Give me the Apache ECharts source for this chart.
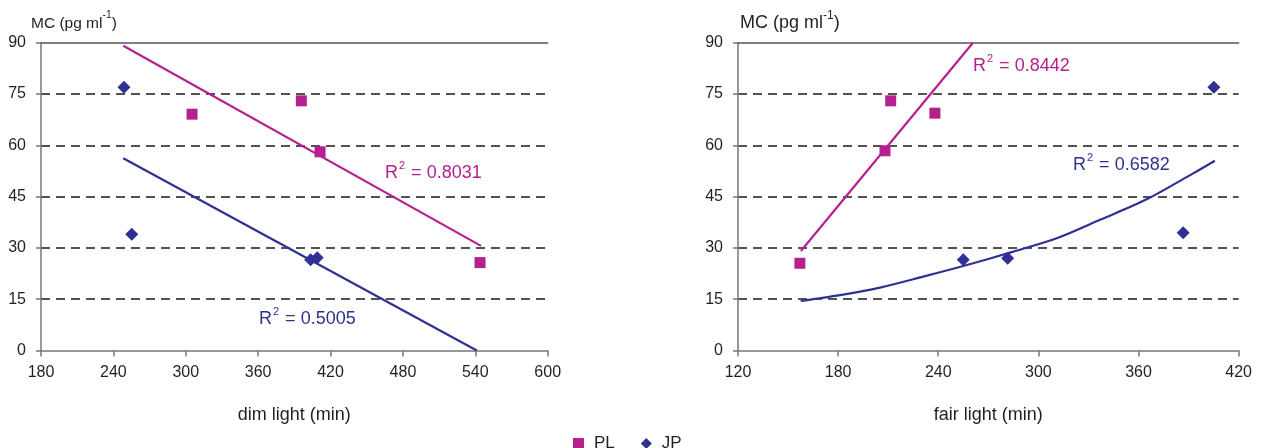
<!DOCTYPE html>
<html>
<head>
<meta charset="utf-8">
<script src="https://cdn.jsdelivr.net/npm/echarts@6/dist/echarts.min.js"></script>
<style>
html,body{margin:0;padding:0;background:#fff;}
#c{width:1265px;height:448px;}
</style>
</head>
<body>
<div id="c"></div>
<script>
// ---- data ----
const seriesNames = ['PL', 'JP'];
const dimPL = [[305.2, 69.1], [395.8, 73.0], [411.3, 58.1], [543.9, 25.7]];
const dimJP = [[248.8, 77.0], [255.2, 34.0], [403.5, 26.5], [409.0, 27.1]];
const fairPL = [[157.1, 25.5], [208.1, 58.4], [211.5, 73.0], [238.0, 69.4]];
const fairJP = [[255.0, 26.5], [281.6, 27.0], [386.8, 34.4], [405.2, 77.0]];
const dimPLTrend = [[248.2, 89.1], [544.7, 30.6]];
const dimJPTrend = [[248.2, 56.2], [541.2, 0]];
const fairPLTrend = [[157.7, 29.1], [260.8, 90]];
const fairJPTrend = [[157.6, 14.5], [181.1, 16.2], [205.1, 18.4], [231.0, 21.6], [255.0, 24.7], [285.0, 28.9], [311.0, 32.8], [336.9, 38.2], [364.9, 44.2], [392.8, 51.8], [405.8, 55.5]];
const r2Labels = ['0.8031', '0.5005', '0.8442', '0.6582'];
const yTitle = 'MC (pg ml';
const xTitles = ['dim light (min)', 'fair light (min)'];
const xRanges = [[180, 600, 60], [120, 420, 60]];
const yRange = [0, 90, 15];

const PL_COLOR = '#B5208E';
const JP_COLOR = '#2E3192';
const TXT = '#231F20';
const FONT = 'Liberation Sans, Arial, sans-serif';
const NONE = 'rgba(0,0,0,0)';
const DASH = '#1a1a1a';

const chart = echarts.init(document.getElementById('c'), null, {renderer: 'canvas'});

const grids = [
  {left: 41, top: 42.7, width: 506.7, height: 307.8},
  {left: 738, top: 42.7, width: 500.6, height: 307.8}
];

function xAxisFor(i) {
  return {
    type: 'value', gridIndex: i, position: 'bottom',
    min: xRanges[i][0], max: xRanges[i][1], interval: xRanges[i][2],
    name: xTitles[i], nameLocation: 'middle', nameGap: 56,
    nameTextStyle: {fontFamily: FONT, fontSize: 18, color: TXT},
    axisLine: {show: true, lineStyle: {color: '#777', width: 1.5}},
    axisTick: {show: true, length: 6, lineStyle: {color: '#777', width: 1.5}},
    axisLabel: {fontFamily: FONT, fontSize: 16, color: TXT, margin: 14},
    splitLine: {show: false}
  };
}
function topAxisFor(i) {
  return {
    type: 'value', gridIndex: i, position: 'top',
    min: xRanges[i][0], max: xRanges[i][1], interval: xRanges[i][2],
    axisLine: {show: true, lineStyle: {color: '#555', width: 1.5}},
    axisTick: {show: false}, axisLabel: {show: false}, splitLine: {show: false}
  };
}
function yAxisFor(i) {
  return {
    type: 'value', gridIndex: i,
    min: yRange[0], max: yRange[1], interval: yRange[2],
    axisLine: {show: true, lineStyle: {color: '#777', width: 1.5}},
    axisTick: {show: true, length: 5, lineStyle: {color: '#777', width: 1.5}},
    axisLabel: {fontFamily: FONT, fontSize: 16, color: TXT, margin: 15},
    splitLine: {show: true, lineStyle: {color: [NONE, DASH, DASH, DASH, DASH, DASH, NONE], width: 1.5, type: [9, 6]}}
  };
}

function scatter(name, data, gi, color, symbol, size) {
  return {
    name: name, type: 'scatter', xAxisIndex: gi * 2, yAxisIndex: gi,
    data: data, symbol: symbol, symbolSize: size,
    itemStyle: {color: color, opacity: 1}, z: 5
  };
}
function trend(name, data, gi, color, smooth) {
  return {
    name: name, type: 'line', xAxisIndex: gi * 2, yAxisIndex: gi,
    data: data, showSymbol: false, symbol: 'none', smooth: smooth || false,
    lineStyle: {color: color, width: 2.2}, clip: true, z: 4,
    emphasis: {disabled: true}
  };
}

function r2Text(x, y, val, color) {
  return {
    type: 'text', x: x, y: y, z: 10,
    style: {
      text: '{n|R}{s|2}{n| = ' + val + '}',
      fill: color, verticalAlign: 'middle', align: 'left',
      rich: {
        n: {fontFamily: FONT, fontSize: 18, color: color, lineHeight: 22, verticalAlign: 'bottom'},
        s: {fontFamily: FONT, fontSize: 11, color: color, lineHeight: 22, verticalAlign: 'top', padding: [0, 1, 0, 1]}
      }
    }
  };
}
function yTitleText(x, y, fs, sfs) {
  return {
    type: 'text', x: x, y: y, z: 10,
    style: {
      text: '{n|' + yTitle + '}{s|-1}{n|)}',
      fill: TXT, verticalAlign: 'middle', align: 'left',
      rich: {
        n: {fontFamily: FONT, fontSize: fs, color: TXT, lineHeight: 22, verticalAlign: 'bottom'},
        s: {fontFamily: FONT, fontSize: sfs, color: TXT, lineHeight: 22, verticalAlign: 'top'}
      }
    }
  };
}

const option = {
  animation: false,
  backgroundColor: '#fff',
  grid: grids,
  xAxis: [xAxisFor(0), topAxisFor(0), xAxisFor(1), topAxisFor(1)],
  yAxis: [yAxisFor(0), yAxisFor(1)],
  legend: {
    data: [{name: seriesNames[0], icon: 'rect'}, {name: seriesNames[1], icon: 'diamond'}],
    left: 568, top: 430, itemWidth: 11, itemHeight: 11, itemGap: 26,
    textStyle: {fontFamily: FONT, fontSize: 17, color: TXT, padding: [0, 0, 0, 5]}
  },
  series: [
    trend('PL trend dim', dimPLTrend, 0, PL_COLOR),
    trend('JP trend dim', dimJPTrend, 0, JP_COLOR),
    trend('PL trend fair', fairPLTrend, 1, PL_COLOR),
    trend('JP trend fair', fairJPTrend, 1, JP_COLOR, 0.3),
    scatter(seriesNames[0], dimPL, 0, PL_COLOR, 'rect', 11),
    scatter(seriesNames[1], dimJP, 0, JP_COLOR, 'diamond', 13),
    scatter(seriesNames[0], fairPL, 1, PL_COLOR, 'rect', 11),
    scatter(seriesNames[1], fairJP, 1, JP_COLOR, 'diamond', 13)
  ],
  graphic: [
    yTitleText(31, 21, 15.5, 10.5),
    yTitleText(740, 21, 18, 12),
    r2Text(385, 171, r2Labels[0], PL_COLOR),
    r2Text(259, 317, r2Labels[1], JP_COLOR),
    r2Text(973, 64, r2Labels[2], PL_COLOR),
    r2Text(1073, 163, r2Labels[3], JP_COLOR)
  ]
};
chart.setOption(option);
</script>
</body>
</html>
